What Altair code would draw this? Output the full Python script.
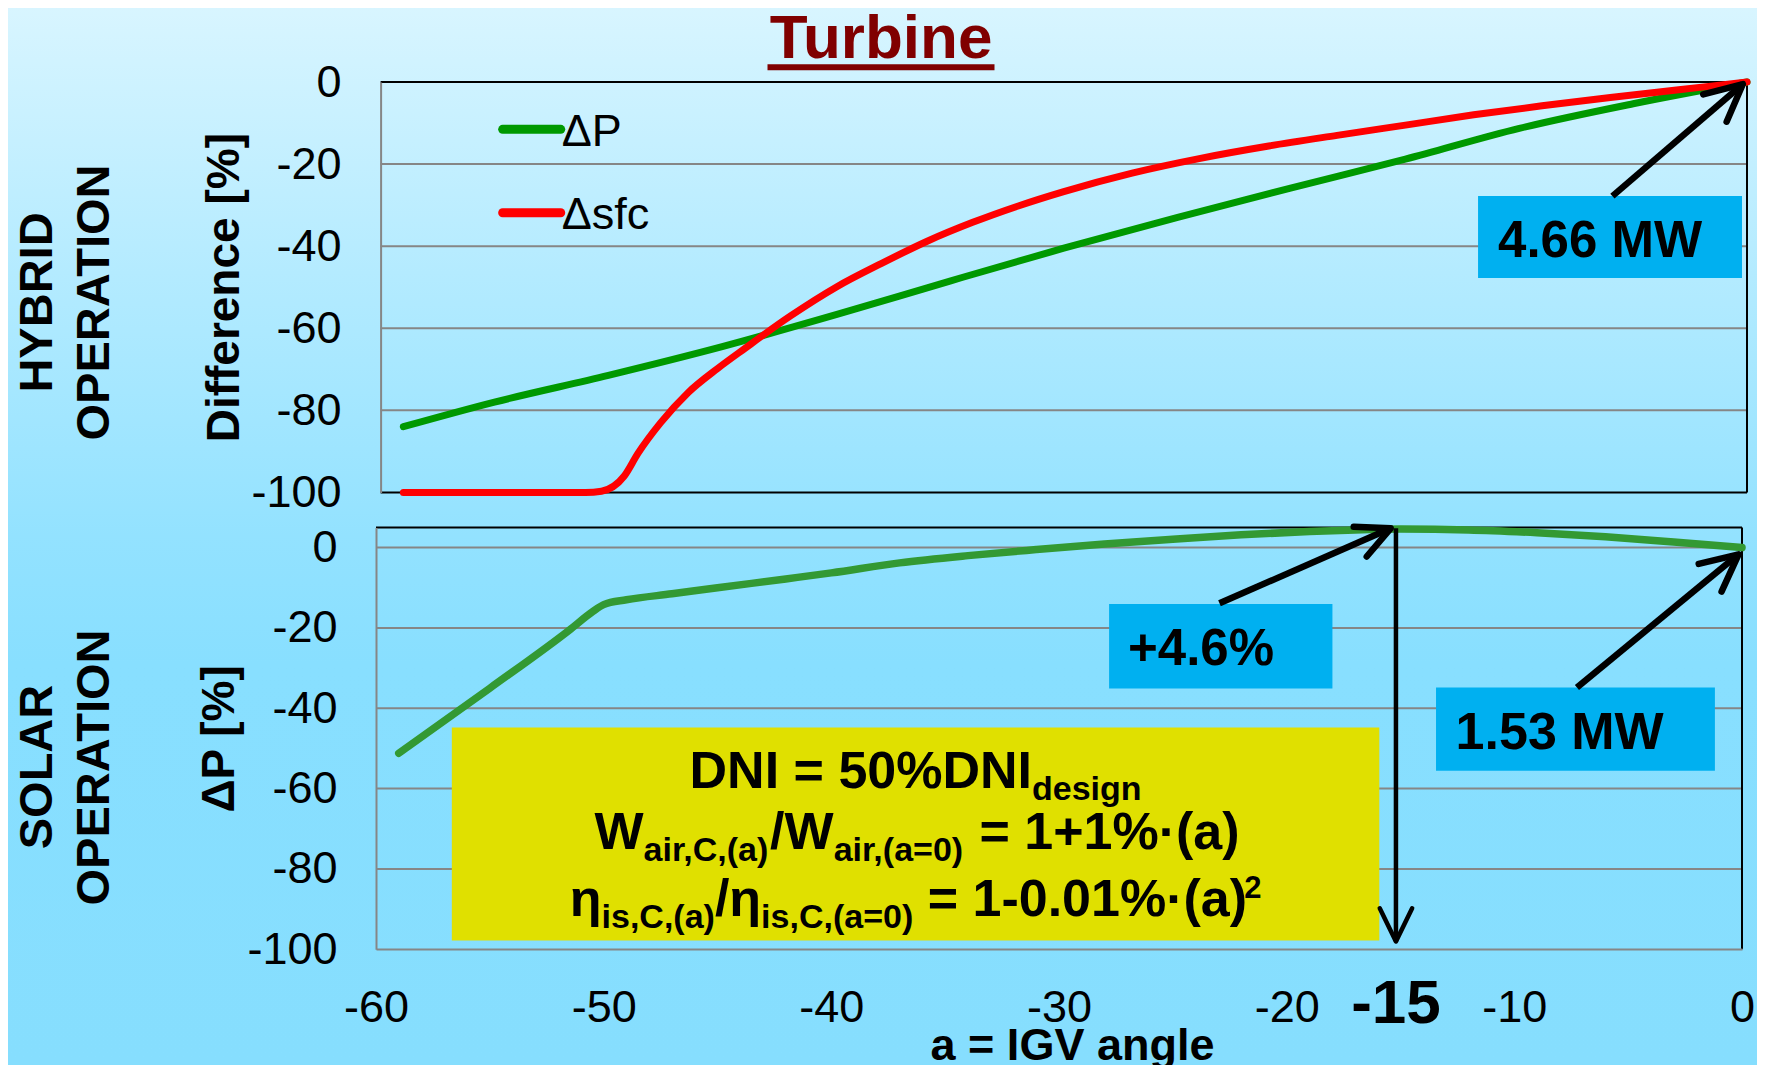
import math
import altair as alt
import pandas as pd

# ---------------- chart values ----------------
# HYBRID OPERATION (top panel)
HYB_ANGLE_P = [-59, -55, -50, -45, -40, -35, -30, -25, -20, -15, -10, -5, 0]
HYB_DP = [-84, -78, -71.5, -64.5, -56.7, -48.5, -40.5, -33, -25.8, -18.8, -11.3, -5.3, 0]

HYB_ANGLE_S = [-59, -55, -51, -50.3, -49.3, -48.7, -47.7, -46.5, -45.2, -44, -42, -40, -38,
               -36, -34, -32, -30, -27, -24, -21, -18, -15, -12, -9, -6, -3, 0]
HYB_DSFC = [-100, -100, -100, -99.7, -96, -90.5, -83, -75.7, -69.8, -64.9, -57, -50, -44.2,
            -38.8, -34.2, -30.2, -26.7, -22.2, -18.6, -15.6, -13, -10.5, -8, -5.8, -3.8, -1.9, 0]

# SOLAR OPERATION (bottom panel)
SOL_ANGLE = [-59, -55, -51.5, -50.5, -50, -49, -47, -45, -42, -40, -37, -34, -31, -28, -25,
             -22, -19, -17, -15, -12, -9, -6, -3, 0]
SOL_DP = [-51.2, -35.0, -20.5, -16.0, -14.2, -13.0, -11.5, -10.0, -7.8, -6.3, -3.8, -2.0, -0.5,
          0.9, 2.1, 3.2, 4.0, 4.4, 4.6, 4.4, 3.7, 2.7, 1.4, 0]

X_TICKS = [-60, -50, -40, -30, -20, -10, 0]
Y_TICKS = [0, -20, -40, -60, -80, -100]
GRID_TOP = [-20, -40, -60, -80]
GRID_BOT = [0, -20, -40, -60, -80]
LEGEND_NAMES = ["ΔP", "Δsfc"]

# annotations (in data units: angle, value)
TOP_BOX = [-11.81, -0.22, -27.78, -47.76]
TOP_BOX_TEXT = ["4.66 MW", -10.93, -42.52]
TOP_ARROW = [-5.91, -27.8, -0.18, -0.5]

PCT_BOX = [-27.80, -17.99, -14.04, -35.10]
PCT_TEXT = ["+4.6%", -26.97, -29.13]
PCT_ARROW = [-22.95, -13.87, -15.43, 4.80]

MW_BOX = [-13.44, -1.19, -34.83, -55.56]
MW_TEXT = ["1.53 MW", -12.58, -50.04]
MW_ARROW = [-7.25, -34.83, -0.15, -1.67]

V_ARROW = [-15.2, 4.8, -15.2, -98.06]
MARK_15 = ["-15", -15.2, -118.25]

YEL_BOX = [-56.67, -15.93, -44.76, -97.81]
YEL_CENTER = -36.30
YEL_BASE = [-59.92, -75.03, -91.59]
YEL_TEXT = [["DNI = 50%DNI", "design"],
            ["W", "air,C,(a)", "/W", "air,(a=0)", " = 1+1%·(a)"],
            ["η", "is,C,(a)", "/η", "is,C,(a=0)", " = 1-0.01%·(a)", "2"]]
YEL_ROLE = [["m", "s"],
            ["m", "s", "m", "s", "m"],
            ["m", "s", "m", "s", "m", "p"]]

# ---------------- layout & style ----------------
FONT = "Liberation Sans"
W, H = 1371, 867
PAD_L, PAD_T, PAD_R, PAD_B = 368, 74, 10, 116
X_DOM = [-60, 0]
TOP_XR, TOP_YR, TOP_YD = [4.6, 1371.0], [410.4, 0.0], [-100, 0]
BOT_XR, BOT_YR, BOT_YD = [0.0, 1366.0], [867.3, 445.5], [-100, 5]

GREEN_TOP, RED, GREEN_BOT = "#009900", "#FF0000", "#339933"
BLUE, YELLOW, GRID, TITLE_RED = "#00B0F0", "#E0E000", "#868686", "#800000"


def to_px(a, v, xr, yr, yd):
    px = xr[0] + (a - X_DOM[0]) / (X_DOM[1] - X_DOM[0]) * (xr[1] - xr[0])
    py = yr[0] + (v - yd[0]) / (yd[1] - yd[0]) * (yr[1] - yr[0])
    return px, py


def XE(field, xr, axis=None):
    return alt.X(f"{field}:Q", scale=alt.Scale(domain=X_DOM, range=xr, nice=False, zero=False), axis=axis)


def YE(field, yr, yd, axis=None):
    return alt.Y(f"{field}:Q", scale=alt.Scale(domain=yd, range=yr, nice=False, zero=False), axis=axis)


def one():
    return pd.DataFrame({"k": [0]})


def axis_y(title, offset, pad):
    return alt.Axis(values=Y_TICKS, orient="left", offset=offset, ticks=False, tickSize=0, grid=False,
                    domainColor=GRID, domainWidth=2, labelFont=FONT, labelFontSize=45, labelColor="black",
                    labelPadding=pad, labelFlush=False, labelOverlap=False, labelExpr="datum.value + ''",
                    title=title, titleFont=FONT, titleFontSize=46, titleFontWeight="bold", titleColor="black",
                    titleAngle=270, titleBaseline="alphabetic", titleX=-142.6, zindex=1)


CHEVRON = "M-0.899,-0.438L0,0L-0.899,0.438"


def arrow(seg, xr, yr, yd, width, head_len):
    a0, v0, a1, v1 = seg
    p0 = to_px(a0, v0, xr, yr, yd)
    p1 = to_px(a1, v1, xr, yr, yd)
    ang = math.degrees(math.atan2(p1[1] - p0[1], p1[0] - p0[0])) % 360
    shaft = alt.Chart(pd.DataFrame({"a": [a0], "v": [v0], "a2": [a1], "v2": [v1]})).mark_rule(
        color="black", strokeWidth=width).encode(
        x=XE("a", xr), y=YE("v", yr, yd), x2=alt.X2("a2:Q"), y2=alt.Y2("v2:Q"))
    head = alt.Chart(pd.DataFrame({"a": [a1], "v": [v1], "ang": [ang], "sz": [(2 * head_len) ** 2]})).mark_point(
        shape=CHEVRON, filled=False, color="black", strokeWidth=width, opacity=1,
        strokeJoin="round", strokeCap="round").encode(
        x=XE("a", xr), y=YE("v", yr, yd),
        angle=alt.Angle("ang:Q", scale=None), size=alt.Size("sz:Q", scale=None))
    return [shaft, head]


def box(b, xr, yr, yd, color):
    return alt.Chart(pd.DataFrame({"a": [b[0]], "a2": [b[1]], "v": [b[2]], "v2": [b[3]]})).mark_rect(
        color=color, opacity=1).encode(x=XE("a", xr), x2=alt.X2("a2:Q"), y=YE("v", yr, yd), y2=alt.Y2("v2:Q"))


def label(t, xr, yr, yd, size, align="left"):
    return alt.Chart(pd.DataFrame({"a": [t[1]], "v": [t[2]], "t": [t[0]]})).mark_text(
        font=FONT, fontSize=size, fontWeight="bold", color="black", align=align, baseline="alphabetic").encode(
        x=XE("a", xr), y=YE("v", yr, yd), text="t:N")


# ---------------- background ----------------
grad = alt.LinearGradient(gradient="linear", x1=0, y1=0, x2=0, y2=1, stops=[
    alt.GradientStop(color="#D8F5FF", offset=0),
    alt.GradientStop(color="#B4EBFF", offset=0.25),
    alt.GradientStop(color="#93E2FF", offset=0.5),
    alt.GradientStop(color="#88DFFF", offset=0.62),
    alt.GradientStop(color="#86DEFE", offset=1)])
bg = alt.Chart(one()).mark_rect(fill=grad).encode(
    x=alt.value(-PAD_L), x2=alt.value(W + PAD_R), y=alt.value(-PAD_T), y2=alt.value(H + PAD_B))

# ---------------- top panel ----------------
t_grid = alt.Chart(pd.DataFrame({"v": GRID_TOP, "a": -60, "a2": 0})).mark_rule(
    color=GRID, strokeWidth=2).encode(
    x=XE("a", TOP_XR), x2=alt.X2("a2:Q"), y=YE("v", TOP_YR, TOP_YD))
t_axis = alt.Chart(pd.DataFrame({"a": [-60], "v": [0]})).mark_point(opacity=0, size=1).encode(
    x=XE("a", TOP_XR), y=YE("v", TOP_YR, TOP_YD, axis=axis_y("Difference [%]", -4.6, 39.5)))
t_frame = alt.Chart(pd.DataFrame({"a": [-60, 0, -60], "v": [0, 0, -100],
                                  "a2": [0, 0, 0], "v2": [0, -100, -100]})).mark_rule(
    color="black", strokeWidth=2).encode(
    x=XE("a", TOP_XR), x2=alt.X2("a2:Q"), y=YE("v", TOP_YR, TOP_YD), y2=alt.Y2("v2:Q"))
t_box = box(TOP_BOX, TOP_XR, TOP_YR, TOP_YD, BLUE)
t_dp = alt.Chart(pd.DataFrame({"a": HYB_ANGLE_P, "v": HYB_DP})).mark_line(
    color=GREEN_TOP, strokeWidth=7, interpolate="monotone", strokeCap="round", strokeJoin="round").encode(
    x=XE("a", TOP_XR), y=YE("v", TOP_YR, TOP_YD))
t_sfc = alt.Chart(pd.DataFrame({"a": HYB_ANGLE_S, "v": HYB_DSFC})).mark_line(
    color=RED, strokeWidth=7, interpolate="monotone", strokeCap="round", strokeJoin="round").encode(
    x=XE("a", TOP_XR), y=YE("v", TOP_YR, TOP_YD))
leg_df = pd.DataFrame({"name": LEGEND_NAMES, "c": [GREEN_TOP, RED],
                       "a": [-54.64, -54.64], "a2": [-52.09, -52.09], "v": [-11.53, -31.85],
                       "ta": [-52.05, -52.05], "tv": [-15.52, -35.89]})
t_leg_line = alt.Chart(leg_df).mark_rule(strokeWidth=9, strokeCap="round").encode(
    x=XE("a", TOP_XR), x2=alt.X2("a2:Q"), y=YE("v", TOP_YR, TOP_YD), color=alt.Color("c:N", scale=None))
t_leg_text = alt.Chart(leg_df).mark_text(font=FONT, fontSize=45, color="black", align="left",
                                         baseline="alphabetic").encode(
    x=XE("ta", TOP_XR), y=YE("tv", TOP_YR, TOP_YD), text="name:N")
t_arrow = arrow(TOP_ARROW, TOP_XR, TOP_YR, TOP_YD, 6.5, 41)
t_lab = label(TOP_BOX_TEXT, TOP_XR, TOP_YR, TOP_YD, 51)

top_layers = [t_grid, t_box, t_frame, t_dp, t_sfc, t_leg_line, t_leg_text] + t_arrow + [t_lab, t_axis]

# ---------------- bottom panel ----------------
x_axis = alt.Axis(values=X_TICKS, orient="bottom", ticks=False, tickSize=0, grid=False,
                  domainColor=GRID, domainWidth=2, labelFont=FONT, labelFontSize=45, labelColor="black",
                  labelPadding=72.4, labelBaseline="alphabetic", labelFlush=False, labelOverlap=False,
                  labelExpr="datum.value + ''",
                  title="a = IGV angle", titleFont=FONT, titleFontSize=45, titleFontWeight="bold",
                  titleColor="black", titleX=696, titleY=110.5, titleAlign="center",
                  titleBaseline="alphabetic", zindex=1)
b_grid = alt.Chart(pd.DataFrame({"v": GRID_BOT, "a": -60, "a2": 0})).mark_rule(
    color=GRID, strokeWidth=2).encode(
    x=XE("a", BOT_XR), x2=alt.X2("a2:Q"), y=YE("v", BOT_YR, BOT_YD))
b_axis = alt.Chart(pd.DataFrame({"a": [-60], "v": [-100]})).mark_point(opacity=0, size=1).encode(
    x=XE("a", BOT_XR, axis=x_axis), y=YE("v", BOT_YR, BOT_YD, axis=axis_y("ΔP [%]", 0, 39)))
b_frame = alt.Chart(pd.DataFrame({"a": [-60, 0], "v": [5, 5], "a2": [0, 0], "v2": [5, -100]})).mark_rule(
    color="black", strokeWidth=2).encode(
    x=XE("a", BOT_XR), x2=alt.X2("a2:Q"), y=YE("v", BOT_YR, BOT_YD), y2=alt.Y2("v2:Q"))
b_yel = box(YEL_BOX, BOT_XR, BOT_YR, BOT_YD, YELLOW)
b_pct = box(PCT_BOX, BOT_XR, BOT_YR, BOT_YD, BLUE)
b_mw = box(MW_BOX, BOT_XR, BOT_YR, BOT_YD, BLUE)
b_dp = alt.Chart(pd.DataFrame({"a": SOL_ANGLE, "v": SOL_DP})).mark_line(
    color=GREEN_BOT, strokeWidth=7.5, interpolate="monotone", strokeCap="round", strokeJoin="round").encode(
    x=XE("a", BOT_XR), y=YE("v", BOT_YR, BOT_YD))
b_arr1 = arrow(PCT_ARROW, BOT_XR, BOT_YR, BOT_YD, 6.5, 37)
b_arr2 = arrow(MW_ARROW, BOT_XR, BOT_YR, BOT_YD, 6.5, 41)
b_arr3 = arrow(V_ARROW, BOT_XR, BOT_YR, BOT_YD, 4.5, 37)
b_lab1 = label(PCT_TEXT, BOT_XR, BOT_YR, BOT_YD, 51)
b_lab2 = label(MW_TEXT, BOT_XR, BOT_YR, BOT_YD, 52)
b_15 = label(MARK_15, BOT_XR, BOT_YR, BOT_YD, 62, align="center")

# yellow box text with sub/superscripts, laid out run by run
BOLD_W = {" ": 278, "%": 889, "(": 333, ")": 333, "+": 584, ",": 278, "-": 333, ".": 278, "/": 278,
          "=": 584, "C": 722, "D": 722, "I": 278, "N": 722, "W": 944, "a": 556, "d": 611, "e": 556,
          "g": 611, "i": 278, "n": 611, "r": 389, "s": 556, "·": 278, "η": 611}
for ch in "0123456789":
    BOLD_W[ch] = 556
MAIN_SIZE = [52, 52, 52]
ROLE_STYLE = {"s": (34, 12), "p": (31, -18)}
deg_px = (BOT_XR[1] - BOT_XR[0]) / 60.0
unit_px = (BOT_YR[0] - BOT_YR[1]) / (BOT_YD[1] - BOT_YD[0])
rows = []
for li, (texts, roles) in enumerate(zip(YEL_TEXT, YEL_ROLE)):
    styles = [(MAIN_SIZE[li], 0) if r == "m" else ROLE_STYLE[r] for r in roles]
    widths = [sum(BOLD_W.get(c, 556) for c in t) * s / 1000.0 for t, (s, _) in zip(texts, styles)]
    total = sum(widths)
    off = -total / 2.0
    for t, (s, sh), w in zip(texts, styles, widths):
        lead = (len(t) - len(t.lstrip(" "))) * BOLD_W[" "] * s / 1000.0
        rows.append({"t": t.strip(" "), "size": s,
                     "a": YEL_CENTER + (off + lead) / deg_px,
                     "v": YEL_BASE[li] - sh / unit_px})
        off += w
b_yel_text = alt.Chart(pd.DataFrame(rows)).mark_text(
    font=FONT, fontWeight="bold", color="black", align="left", baseline="alphabetic").encode(
    x=XE("a", BOT_XR), y=YE("v", BOT_YR, BOT_YD), text="t:N", size=alt.Size("size:Q", scale=None))

bottom_layers = ([b_grid, b_yel, b_pct, b_mw, b_frame, b_dp] + b_arr1 + b_arr2 + b_arr3
                 + [b_lab1, b_lab2, b_15, b_yel_text, b_axis])

# ---------------- outer texts ----------------
title = alt.Chart(one()).mark_text(text="Turbine", font=FONT, fontSize=62, fontWeight="bold",
                                   color=TITLE_RED, align="center", baseline="alphabetic").encode(
    x=alt.value(505), y=alt.value(-24))
underline = alt.Chart(one()).mark_rule(color=TITLE_RED, strokeWidth=6).encode(
    x=alt.value(391.5), x2=alt.value(618.5), y=alt.value(-14.8))
side_df = pd.DataFrame({"t": ["HYBRID", "OPERATION", "SOLAR", "OPERATION"],
                        "px": [-324, -267, -324, -267], "py": [220.5, 220.5, 685.0, 685.5]})
side = alt.Chart(side_df).mark_text(font=FONT, fontSize=47, fontWeight="bold", color="black",
                                    angle=270, align="center", baseline="alphabetic").encode(
    x=alt.X("px:Q", scale=None, axis=None), y=alt.Y("py:Q", scale=None, axis=None), text="t:N")

chart = alt.layer(bg, *top_layers, *bottom_layers, title, underline, side).resolve_scale(
    x="independent", y="independent").properties(
    width=W, height=H,
    autosize=alt.AutoSizeParams(type="none"),
    padding={"left": PAD_L, "top": PAD_T, "right": PAD_R, "bottom": PAD_B},
    background="#88DFFF",
).configure_view(stroke=None)

chart.save("out.html", embed_options={"renderer": "svg", "actions": False})
